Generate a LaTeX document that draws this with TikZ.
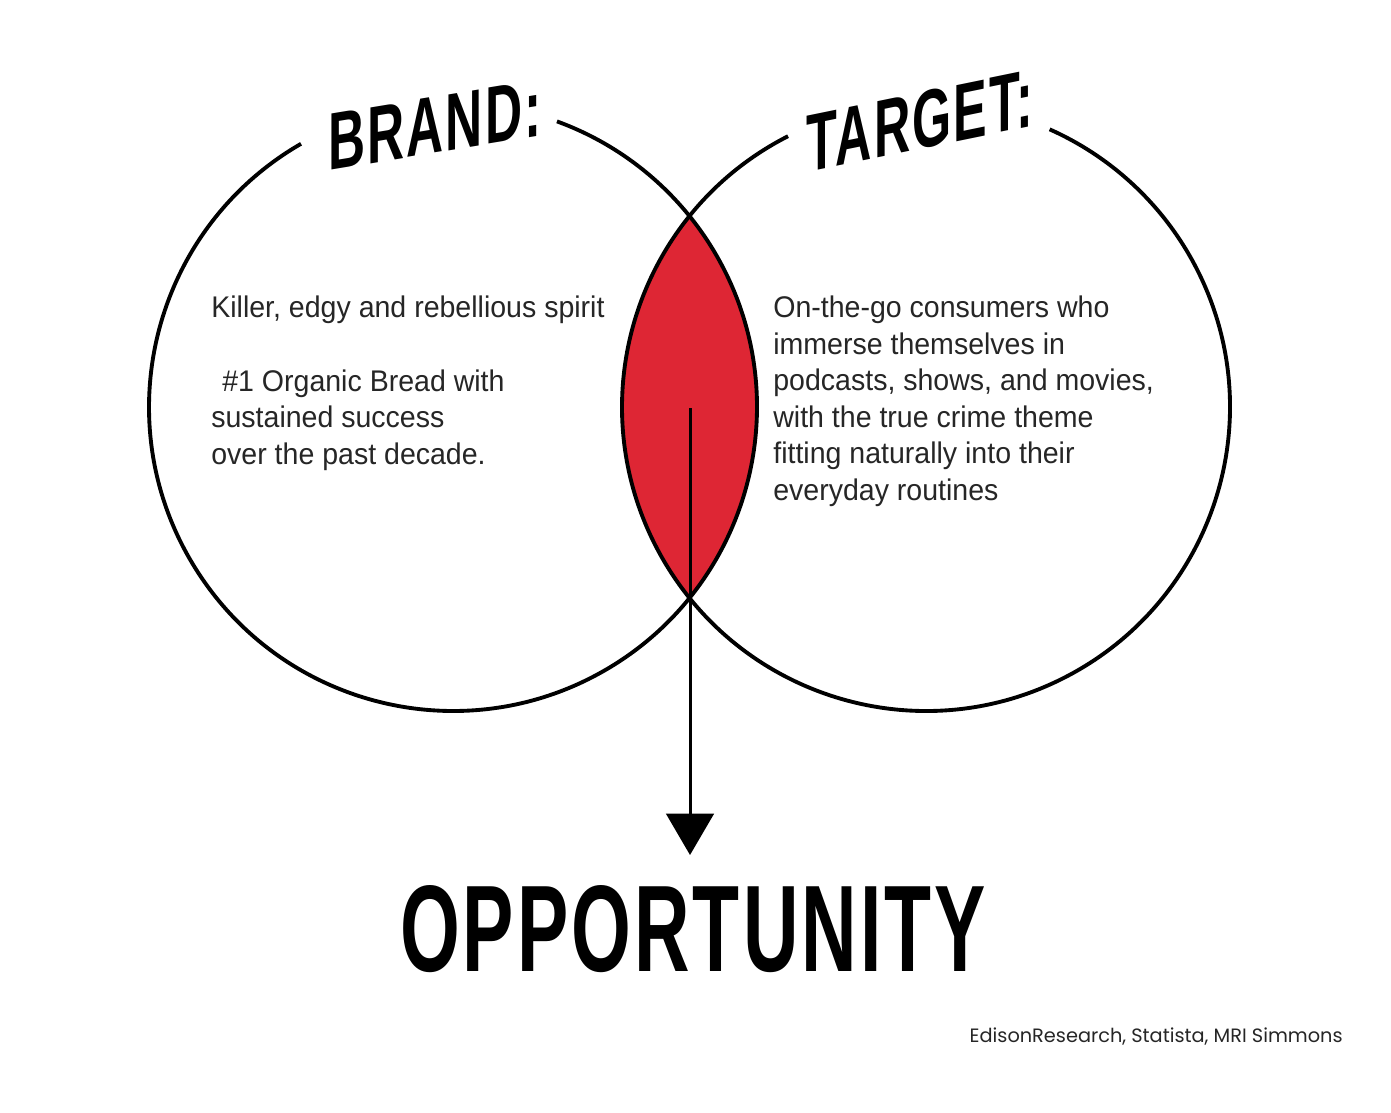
\documentclass[tikz,border=0pt]{standalone}
\usepackage{fontspec}
\usepackage{graphicx}
\usetikzlibrary{arrows.meta}
\setmainfont{Liberation Sans}
\newfontfamily\bodyfont[FakeStretch=0.955]{Liberation Sans}
\newfontfamily\titlefont[LetterSpace=4]{Liberation Sans Bold}
\newfontfamily\srcfont{Poppins}
\definecolor{lensred}{RGB}{222,38,52}
\definecolor{txt}{RGB}{38,38,38}
\begin{document}
\begin{tikzpicture}[x=0.02cm,y=0.02cm,
  ring/.style={line width=2.2pt, black},
  body/.style={anchor=base west, inner sep=0pt, text=txt, font=\bodyfont\fontsize{17}{20}\selectfont},
  titletext/.style={inner sep=0pt, font=\titlefont},
  link/.style={line width=1.7pt, -{Triangle[width=27pt,length=23.5pt]}}]
\useasboundingbox (0,0) rectangle (1391,-1112);
\fill[white] (0,0) rectangle (1391,-1112);
\coordinate (L) at (453,-407);
\coordinate (R) at (926,-407);
\begin{scope}
  \clip (L) circle[radius=6.08cm];
  \fill[lensred] (R) circle[radius=6.08cm];
\end{scope}
\draw[ring] (L) ++(120:6.08cm) arc[start angle=120,end angle=430,radius=6.08cm];
\draw[ring] (R) ++(117:6.08cm) arc[start angle=117,end angle=426,radius=6.08cm];
% titles
\node[titletext, yslant=0.165] (brand) at (435,-125) {\resizebox{4.26cm}{1.12cm}{BRAND:}};
\node[titletext, yslant=0.205] (target) at (920,-121) {\resizebox{4.53cm}{1.14cm}{TARGET:}};
% left text
\node[body] (b1) at (211,-317) {Killer, edgy and rebellious spirit};
\node[body] (b2) at (222,-391) {\#1 Organic Bread with};
\node[body] (b3) at (211,-427) {sustained success};
\node[body] (b4) at (211,-464) {over the past decade.};
% right text
\node[body] (t1) at (773,-317) {On-the-go consumers who};
\node[body] (t2) at (773,-354) {immerse themselves in};
\node[body] (t3) at (773,-390) {podcasts, shows, and movies,};
\node[body] (t4) at (773,-427) {with the true crime theme};
\node[body] (t5) at (773,-463) {fitting naturally into their};
\node[body] (t6) at (773,-500) {everyday routines};
% arrow
\coordinate (lensc) at (690,-408);
\coordinate (tip) at (690,-855);
\draw[link] (lensc) -- (tip);
\node[titletext, anchor=south] (opp) at (693,-973) {\resizebox{11.72cm}{1.72cm}{OPPORTUNITY}};
\node[anchor=base east, inner sep=0pt, text=txt] (src) at (1343,-1042) {\resizebox{7.46cm}{!}{\srcfont EdisonResearch, Statista, MRI Simmons}};
\end{tikzpicture}
\end{document}
